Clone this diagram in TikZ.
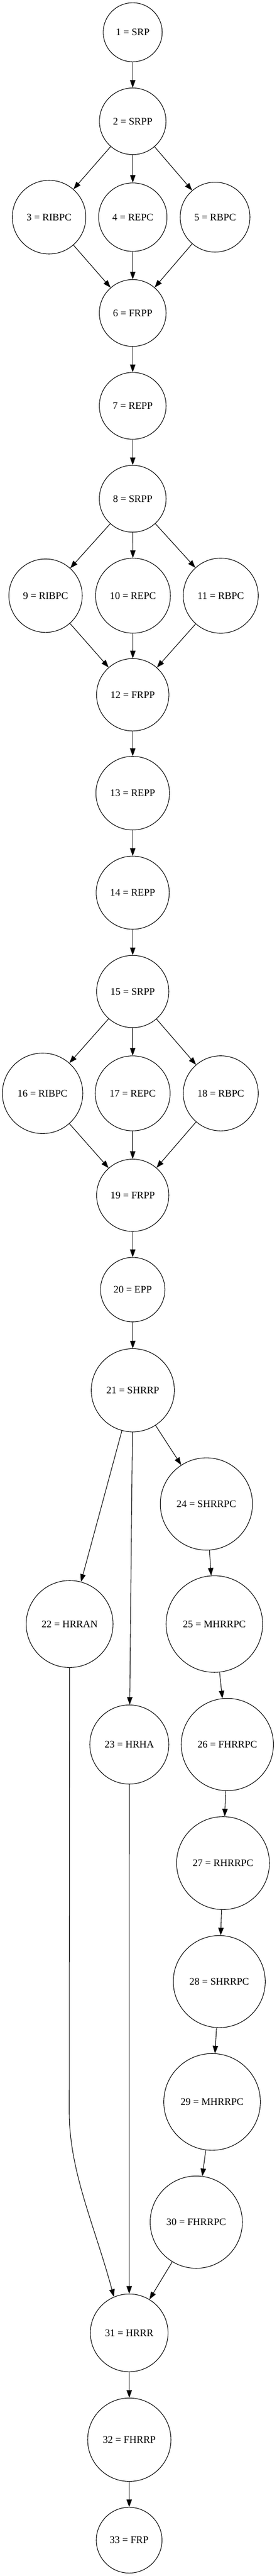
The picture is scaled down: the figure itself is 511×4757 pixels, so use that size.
\documentclass[tikz,border=0pt]{standalone}
\usepackage{fontspec}
\setmainfont{Liberation Serif}
\usetikzlibrary{arrows.meta}
\tikzset{
  nd/.style={circle, draw=black, line width=0.8pt, inner sep=0pt, minimum size=#1*1.5pt,
             font=\fontsize{14pt}{16pt}\selectfont},
  arr/.style={draw=black, line width=0.8pt, -{Triangle[length=10.5pt,width=7.5pt]}}
}
\begin{document}
\begin{tikzpicture}[x=0.75pt, y=-0.75pt]
\fill[white] (0,0) rectangle (511,4757);
\useasboundingbox (0,0) rectangle (511,4757);
% nodes
\node[nd=54.5] (n1) at (245.3,59.6) {1 = SRP};
\node[nd=61.5] (n2) at (245.3,224) {2 = SRPP};
\node[nd=68] (n3) at (90.7,401) {3 = RIBPC};
\node[nd=63.2] (n4) at (245.5,401) {4 = REPC};
\node[nd=64.5] (n5) at (397.5,401) {5 = RBPC};
\node[nd=61.7] (n6) at (245.3,578) {6 = FRPP};
\node[nd=61.7] (n7) at (245.3,749.5) {7 = REPP};
\node[nd=61.7] (n8) at (245.3,921) {8 = SRPP};
\node[nd=67.8] (n9) at (84.2,1100) {9 = RIBPC};
\node[nd=69.2] (n10) at (245.8,1100) {10 = REPC};
\node[nd=69.3] (n11) at (408,1100) {11 = RBPC};
\node[nd=66.8] (n12) at (245.3,1283) {12 = FRPP};
\node[nd=68] (n13) at (245.3,1464.7) {13 = REPP};
\node[nd=67.5] (n14) at (245.3,1648.5) {14 = REPP};
\node[nd=66.7] (n15) at (245.3,1831) {15 = SRPP};
\node[nd=74.3] (n16) at (78.7,2019) {16 = RIBPC};
\node[nd=69.2] (n17) at (245.2,2019) {17 = REPC};
\node[nd=69.3] (n18) at (408,2019) {18 = RBPC};
\node[nd=66.7] (n19) at (245.3,2207.3) {19 = FRPP};
\node[nd=59.5] (n20) at (245.3,2381.5) {20 = EPP};
\node[nd=76.8] (n21) at (245.5,2567.3) {21 = SHRRP};
\node[nd=80.3] (n22) at (128.7,2999) {22 = HRRAN};
\node[nd=73] (n23) at (239,3221.5) {23 = HRHA};
\node[nd=85.2] (n24) at (381.5,2777.3) {24 = SHRRPC};
\node[nd=89.2] (n25) at (396.2,2999) {25 = MHRRPC};
\node[nd=85.2] (n26) at (420.2,3221.5) {26 = FHRRPC};
\node[nd=85.8] (n27) at (412.2,3440.5) {27 = RHRRPC};
\node[nd=85] (n28) at (405.3,3659.3) {28 = SHRRPC};
\node[nd=89.3] (n29) at (392,3881.5) {29 = MHRRPC};
\node[nd=85.2] (n30) at (362.8,4103.5) {30 = FHRRPC};
\node[nd=71.8] (n31) at (238.8,4308) {31 = HRRR};
\node[nd=77] (n32) at (239,4505.3) {32 = FHRRP};
\node[nd=60.7] (n33) at (238.7,4690.8) {33 = FRP};
% helper coordinates for the long bend 22 -> 31
\coordinate (b1) at (128,3900);
\coordinate (c1) at (128,4010);
\coordinate (c2) at (175,4110);
% edges
\draw[arr] (n1) -- (n2);
\draw[arr] (n2) -- (n3);
\draw[arr] (n2) -- (n4);
\draw[arr] (n2) -- (n5);
\draw[arr] (n3) -- (n6);
\draw[arr] (n4) -- (n6);
\draw[arr] (n5) -- (n6);
\draw[arr] (n6) -- (n7);
\draw[arr] (n7) -- (n8);
\draw[arr] (n8) -- (n9);
\draw[arr] (n8) -- (n10);
\draw[arr] (n8) -- (n11);
\draw[arr] (n9) -- (n12);
\draw[arr] (n10) -- (n12);
\draw[arr] (n11) -- (n12);
\draw[arr] (n12) -- (n13);
\draw[arr] (n13) -- (n14);
\draw[arr] (n14) -- (n15);
\draw[arr] (n15) -- (n16);
\draw[arr] (n15) -- (n17);
\draw[arr] (n15) -- (n18);
\draw[arr] (n16) -- (n19);
\draw[arr] (n17) -- (n19);
\draw[arr] (n18) -- (n19);
\draw[arr] (n19) -- (n20);
\draw[arr] (n20) -- (n21);
\draw[arr] (n21) -- (n22);
\draw[arr] (n21) -- (n23);
\draw[arr] (n21) -- (n24);
\draw[arr] (n24) -- (n25);
\draw[arr] (n25) -- (n26);
\draw[arr] (n26) -- (n27);
\draw[arr] (n27) -- (n28);
\draw[arr] (n28) -- (n29);
\draw[arr] (n29) -- (n30);
\draw[arr] (n22) -- (b1) .. controls (c1) and (c2) .. (n31.113);
\draw[arr] (n23) -- (n31);
\draw[arr] (n30) -- (n31);
\draw[arr] (n31) -- (n32);
\draw[arr] (n32) -- (n33);
\end{tikzpicture}
\end{document}
